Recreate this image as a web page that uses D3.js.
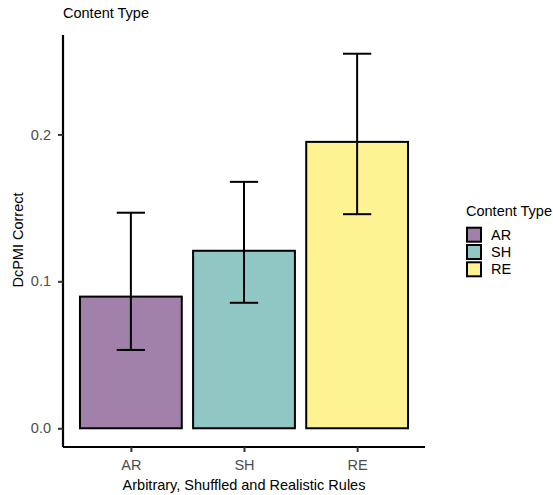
<!DOCTYPE html>
<html><head><meta charset="utf-8">
<script src="https://cdn.jsdelivr.net/npm/d3@7"></script>
<style>body{margin:0;background:#fff}text{font-family:"Liberation Sans",Arial,sans-serif}</style>
</head><body><svg id="c" width="553" height="495"></svg>
<script>
const categories = ["AR","SH","RE"];
const means = [0.0896, 0.1208, 0.1949];
const lower = [0.0533, 0.0854, 0.1457];
const upper = [0.1467, 0.1677, 0.2549];
const colors = ["#A180A9","#90C7C5","#FEF392"];
const yTicks = [0.0, 0.1, 0.2];

(function(){
const svg = d3.select("#c");
const pLeft = 63, pRight = 425, pTop = 35, pBottom = 447;
const fs = 14.5;
const x = d3.scaleLinear().domain([0.4, 3.6]).range([pLeft, pRight]);
const y = d3.scaleLinear().domain([-0.012745, 0.267645]).range([pBottom, pTop]);
const bw = 0.9, cw = 0.25;

const data = categories.map((c,i)=>({c,i,m:means[i],lo:lower[i],hi:upper[i],col:colors[i]}));

svg.append("g").selectAll("rect").data(data).join("rect")
  .attr("x", d=>x(d.i+1-bw/2)).attr("width", d=>x(d.i+1+bw/2)-x(d.i+1-bw/2))
  .attr("y", d=>y(d.m)).attr("height", d=>y(0)-y(d.m))
  .attr("fill", d=>d.col).attr("stroke","#000").attr("stroke-width",2);

const eb = svg.append("g").attr("stroke","#000").attr("stroke-width",2).attr("fill","none");
data.forEach(d=>{
  const cx = x(d.i+1);
  eb.append("line").attr("x1",cx).attr("x2",cx).attr("y1",y(d.lo)).attr("y2",y(d.hi));
  eb.append("line").attr("x1",x(d.i+1-cw/2)).attr("x2",x(d.i+1+cw/2)).attr("y1",y(d.lo)).attr("y2",y(d.lo));
  eb.append("line").attr("x1",x(d.i+1-cw/2)).attr("x2",x(d.i+1+cw/2)).attr("y1",y(d.hi)).attr("y2",y(d.hi));
});

const yAxis = svg.append("g").attr("transform",`translate(${pLeft},0)`)
  .call(d3.axisLeft(y).tickValues(yTicks).tickFormat(d3.format(".1f")).tickSize(5).tickPadding(7));
const xAxis = svg.append("g").attr("transform",`translate(0,${pBottom})`)
  .call(d3.axisBottom(x).tickValues([1,2,3]).tickFormat(d=>categories[d-1]).tickSize(5).tickPadding(8));
[yAxis,xAxis].forEach(a=>{
  a.select(".domain").attr("stroke","#000").attr("stroke-width",2.2);
  a.selectAll(".tick line").attr("stroke","#333").attr("stroke-width",2);
  a.selectAll(".tick text").attr("fill","#4D4D4D").attr("font-size",fs).style("font-family","Liberation Sans, Arial, sans-serif");
});
yAxis.select(".domain").attr("d",`M0,${pTop}V${pBottom}`);
xAxis.select(".domain").attr("d",`M${pLeft},0H${pRight}`);

svg.append("text").attr("x",63).attr("y",18).attr("font-size",fs).attr("fill","#000").text("Content Type");
svg.append("text").attr("x",(pLeft+pRight)/2).attr("y",490).attr("text-anchor","middle").attr("font-size",fs).text("Arbitrary, Shuffled and Realistic Rules");
svg.append("text").attr("transform",`translate(22.5,${(pTop+pBottom)/2 - 1}) rotate(-90)`).attr("text-anchor","middle").attr("font-size",fs).text("DcPMI Correct");

const lg = svg.append("g");
lg.append("text").attr("x",466).attr("y",216).attr("font-size",fs).text("Content Type");
data.forEach((d,i)=>{
  const ky = 227.7 + i*17.3;
  lg.append("rect").attr("x",467).attr("y",ky).attr("width",14).attr("height",14)
    .attr("fill",d.col).attr("stroke","#000").attr("stroke-width",2);
  lg.append("text").attr("x",491).attr("y",ky+12).attr("font-size",fs).text(d.c);
});
})();
</script></body></html>
